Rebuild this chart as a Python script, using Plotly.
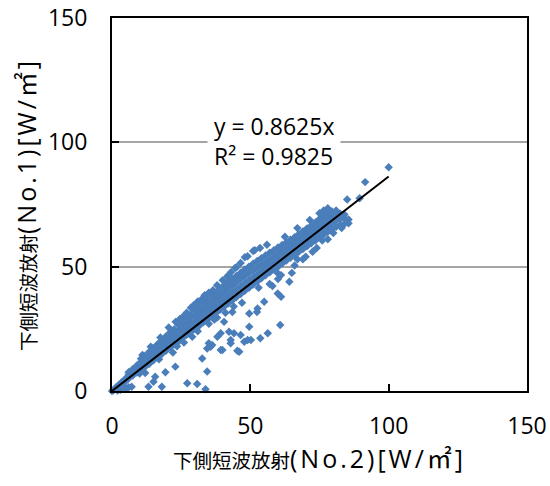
import plotly.graph_objects as go

# ---- data ----
band_points = [
    (0, 0), (0.5, 0.3), (1, 0.8), (1.5, 1.5), (2, 1.2), (2.5, 2.5), (3, 2.2), (3.5, 3.5),
    (4, 3.0), (4.5, 4.5), (5, 4.0), (5.5, 5.5), (3, 0.5), (5, 1.0), (6, 1.5), (2, 0.2),
    (6, 5.0), (6, 6.5), (6, 7.5),
    (7.5, 6.2), (7.5, 7.5), (7.5, 8.8),
    (9, 7.4), (9, 8.8), (9, 10.3),
    (10.5, 8.6), (10.5, 10.2), (10.5, 11.8), (10.5, 13.0),
    (12, 9.8), (12, 11.5), (12, 13.0), (12, 14.2),
    (13.5, 11.0), (13.5, 12.6), (13.5, 14.3), (13.5, 15.8),
    (15, 12.4), (15, 14.0), (15, 15.7), (15, 17.3),
    (16.5, 13.6), (16.5, 15.5), (16.5, 17.0), (16.5, 18.8),
    (18, 14.9), (18, 16.8), (18, 18.5), (18, 20.3),
    (19.5, 16.2), (19.5, 18.0), (19.5, 19.8), (19.5, 21.9),
    (21, 17.5), (21, 19.6), (21, 21.4), (21, 23.5),
    (22.5, 18.8), (22.5, 20.7), (22.5, 22.8), (22.5, 24.8),
    (24, 19.9), (24, 22.0), (24, 24.2), (24, 26.6),
    (25.5, 21.3), (25.5, 23.5), (25.5, 25.6), (25.5, 27.9),
    (27, 22.6), (27, 24.8), (27, 27.0), (27, 29.5),
    (28.5, 23.7), (28.5, 26.0), (28.5, 28.3), (28.5, 30.8), (28.5, 33.5),
    (30, 25.0), (30, 27.4), (30, 29.9), (30, 32.4),
    (31.5, 26.2), (31.5, 28.7), (31.5, 31.2), (31.5, 33.8),
    (33, 27.6), (33, 30.1), (33, 32.6), (33, 35.3),
    (34.5, 28.8), (34.5, 31.4), (34.5, 34.0), (34.5, 36.6),
    (36, 30.2), (36, 32.8), (36, 35.4), (36, 38.2),
    (37.5, 31.4), (37.5, 34.0), (37.5, 36.9), (37.5, 39.5),
    (39, 32.7), (39, 35.5), (39, 38.3), (39, 41.0),
    (40.5, 33.9), (40.5, 36.8), (40.5, 39.6), (40.5, 42.4),
    (42, 35.2), (42, 38.1), (42, 41.0), (42, 43.8), (42, 46.5),
    (43.5, 36.5), (43.5, 39.5), (43.5, 42.4), (43.5, 45.0),
    (45, 37.8), (45, 40.8), (45, 43.7), (45, 46.3), (45, 49.8),
    (46.5, 39.0), (46.5, 42.0), (46.5, 45.0), (46.5, 47.6),
    (48, 40.3), (48, 43.3), (48, 46.2), (48, 48.9), (48, 53.8),
    (49.5, 41.5), (49.5, 44.5), (49.5, 47.4), (49.5, 50.0),
    (51, 42.8), (51, 45.6), (51, 48.5), (51, 51.2), (51, 56.3),
    (52.5, 44.0), (52.5, 46.8), (52.5, 49.6), (52.5, 52.3),
    (54, 45.3), (54, 48.0), (54, 50.7), (54, 53.4),
    (55.5, 46.5), (55.5, 49.2), (55.5, 51.8), (55.5, 54.5),
    (57, 47.7), (57, 50.4), (57, 52.9), (57, 55.6),
    (58.5, 48.9), (58.5, 51.5), (58.5, 54.0), (58.5, 56.6),
    (60, 50.0), (60, 52.6), (60, 55.1), (60, 57.7),
    (61.5, 51.3), (61.5, 53.7), (61.5, 56.2), (61.5, 58.7),
    (63, 52.5), (63, 54.9), (63, 57.3), (63, 59.7),
    (64.5, 53.6), (64.5, 56.0), (64.5, 58.4), (64.5, 60.8),
    (66, 54.8), (66, 57.2), (66, 59.5), (66, 61.8),
    (67.5, 56.0), (67.5, 58.3), (67.5, 60.6), (67.5, 63.0),
    (69, 57.1), (69, 59.4), (69, 61.8), (69, 64.2),
    (70.5, 58.2), (70.5, 60.6), (70.5, 63.0), (70.5, 65.4),
    (72, 59.4), (72, 61.7), (72, 64.1), (72, 66.5),
    (73.5, 60.5), (73.5, 62.9), (73.5, 65.3), (73.5, 67.8),
    (75, 61.7), (75, 64.0), (75, 66.5), (75, 69.2), (75, 71.5),
    (76.5, 62.9), (76.5, 65.2), (76.5, 67.7), (76.5, 70.3), (76.5, 72.6),
    (78, 64.0), (78, 66.4), (78, 68.9), (78, 71.4), (78, 73.5),
    (79.5, 65.0), (79.5, 67.5), (79.5, 70.0), (79.5, 72.2),
    (81, 66.0), (81, 68.5), (81, 70.8), (81, 72.6),
    (82.5, 66.8), (82.5, 69.2), (82.5, 71.3),
    (84, 67.2), (84, 69.5), (84, 71.0),
    (85.5, 67.5), (85.5, 69.0),
]

edge_points = [
    (11, 14.5), (14, 17.8), (17.5, 21.5), (23, 27.8), (26, 30.3), (29.5, 34.5),
    (32.5, 37.0), (36.5, 40.5), (40, 44.5), (43, 47.8),
    (10, 7.0), (17, 12.8), (23.5, 18.0), (31, 24.0), (37, 28.7), (44, 34.0),
    (53, 41.5), (60, 47.3), (67, 53.0), (76, 60.5), (80, 63.5),
]

lower_points = [
    (22, 15.5), (26, 19.5), (29, 21.8), (35, 27.0), (38, 29.5), (41, 31.5),
    (43.5, 31.8), (47, 35.5), (52.4, 31.8), (55, 35.9), (59.9, 39.2), (61.1, 37.9),
    (64.1, 43.9), (61.1, 46.6), (57, 43.0), (66, 50.5), (70, 54.0), (74, 57.5),
    (78, 61.0), (83, 65.5),
]

outlier_points = [
    (60.8, 26.5), (56.3, 23.2), (53.6, 21.2), (49.6, 25.8), (49, 20.5), (47.8, 19.8),
    (45.3, 16.2), (46.5, 22.5), (44.1, 23.2), (42.3, 23.8), (42.9, 20.5), (40.5, 27.8),
    (39.3, 23.2), (39.9, 16.5), (38.1, 21.8), (36.2, 18.5), (34.4, 17.1), (35, 19.2),
    (32.6, 13.1), (34.4, 7.8), (33.8, 0.7), (50.2, 20.5), (52.6, 33.2), (49.6, 31.2),
    (27.2, 3.1), (30.8, 2.8), (18, 1.7), (13.2, 1.7), (15, 3.7), (19.3, 7.5),
    (15.6, 5.7), (12, 7.2), (22.9, 9.8), (7.1, 1.7), (35.6, 17.8), (39.3, 16.5),
    (42.9, 19.2), (46, 15.8),
]

upper_points = [
    (85, 77.0), (89.5, 77.5), (91.5, 84.0), (100, 90.0),
    (51.6, 56.6), (49, 54.2), (44.5, 49.5), (41.7, 45.9), (38, 42.5), (35, 39.5),
    (31, 36.0), (27, 31.5), (24.5, 29.0), (20.5, 25.5), (33.5, 38.5), (46.5, 51.5),
    (53.5, 57.5), (56, 58.8), (62.5, 62.0), (67, 65.5), (71.5, 68.8), (65, 47.5),
    (69, 53.0), (72.5, 56.0), (60, 45.0), (58, 42.2),
]

trend_slope = 0.8625
r_squared = 0.9825
tick_values = [0, 50, 100, 150]
title_cjk = "下側短波放射"
x_title_unit = "(No.2)[W/㎡]"
y_title_unit = "(No.1)[W/㎡]"

# ---- build ----
all_points = band_points + edge_points + lower_points + outlier_points + upper_points
xs = [p[0] for p in all_points]
ys = [p[1] for p in all_points]

x_lo, x_hi = min(xs), max(xs)
trend_x = [x_lo, x_hi]
trend_y = [trend_slope * v for v in trend_x]

fig = go.Figure()
fig.add_trace(go.Scatter(
    x=xs, y=ys, mode="markers",
    marker=dict(symbol="diamond", size=6.5, color="#4A7EBB", line=dict(width=0)),
    showlegend=False, hoverinfo="skip", cliponaxis=False,
))
fig.add_trace(go.Scatter(
    x=trend_x, y=trend_y, mode="lines",
    line=dict(color="black", width=2),
    showlegend=False, hoverinfo="skip",
))

font_main = "Open Sans, Noto Sans CJK JP, sans-serif"

fig.add_annotation(
    x=58.5, y=100.4, xref="x", yref="y",
    text=f"y = {trend_slope}x<br>R² = {r_squared}",
    showarrow=False, align="left",
    font=dict(family=font_main, size=23, color="black"),
    bgcolor="white", borderpad=6,
)


def title_html(unit):
    return (f"{title_cjk}<span style=\"font-size:25px;letter-spacing:3px\">{unit}</span>")


fig.update_layout(
    width=550, height=486,
    margin=dict(l=112, r=23, t=18, b=95, autoexpand=False),
    paper_bgcolor="white", plot_bgcolor="white",
    font=dict(family=font_main, size=21, color="black"),
)
axis_common = dict(
    range=[0, 150], tickvals=tick_values, ticktext=[str(v) for v in tick_values],
    zeroline=False, automargin=False,
    showline=True, linecolor="black", linewidth=2, mirror=True,
    ticks="inside", ticklen=7, tickwidth=2, tickcolor="black",
    tickfont=dict(family=font_main, size=23, color="black"),
)
fig.update_xaxes(
    **axis_common, showgrid=False, ticklabelstandoff=13,
    title=dict(text=title_html(x_title_unit), font=dict(family=font_main, size=19.5), standoff=12),
)
fig.update_yaxes(
    **axis_common, showgrid=True, gridcolor="#A5A5A5", gridwidth=1.5,
    ticklabelstandoff=18,
    title=dict(text=title_html(y_title_unit), font=dict(family=font_main, size=19.5), standoff=6),
)

fig.write_html("out.html")
